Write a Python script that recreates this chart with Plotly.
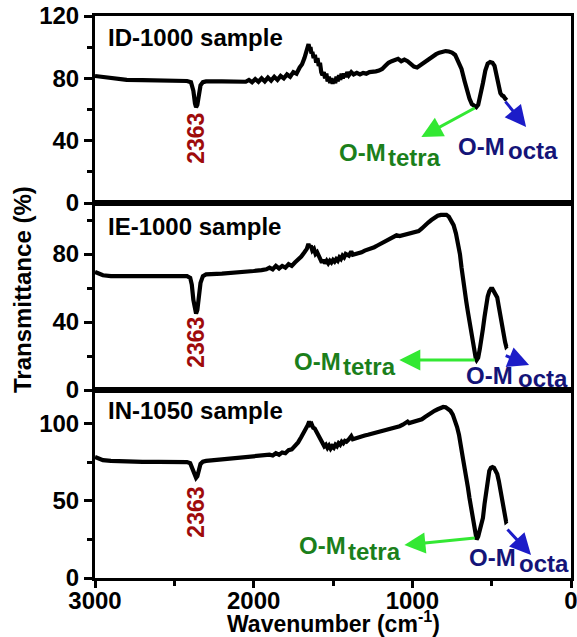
import plotly.graph_objects as go

# ---------------- data ----------------
wn_id = [3000, 2900, 2800, 2700, 2600, 2500, 2420, 2395, 2380, 2370, 2363, 2355, 2345, 2335, 2320, 2300,
         2200, 2100, 2050, 2030, 2010, 1990, 1970, 1950, 1930, 1910, 1890, 1870, 1850, 1830, 1810, 1790,
         1770, 1750, 1730, 1710, 1695, 1680, 1668, 1660, 1654, 1648, 1642, 1636, 1630, 1622, 1614, 1606,
         1598, 1590, 1582, 1574, 1566, 1558, 1550, 1542, 1534, 1526, 1518, 1510, 1502, 1494, 1486, 1478,
         1470, 1462, 1454, 1446, 1438, 1430, 1420, 1410, 1400, 1385, 1370, 1350, 1330, 1310, 1290, 1270,
         1250, 1230, 1210, 1190, 1170, 1150, 1130, 1110, 1090, 1070, 1050, 1030, 1010, 990, 970, 950,
         930, 910, 890, 870, 850, 830, 810, 790, 770, 750, 730, 710, 690, 670, 655, 640, 625, 610, 597,
         585, 570, 555, 540, 525, 510, 495, 482, 470, 458, 445, 435, 425, 415, 405]
t_id = [81.5, 80, 79, 78.8, 78.6, 78.5, 78.3, 77.5, 72, 64, 61.5, 63, 70, 75.5, 77.5, 78,
        78, 78.2, 77.8, 79, 77.5, 79.5, 77.8, 80, 78, 80.5, 78.5, 81, 79, 81.5, 80, 82.5,
        81, 84, 83, 87, 89, 93, 97, 99, 102, 99, 100, 96, 97, 93, 95, 90,
        93, 88, 90, 84, 82, 84, 80, 83, 78, 81, 77, 80, 76.5, 79.5, 77, 81,
        78, 82, 79, 83, 80, 83, 81, 84, 82, 84, 82.5, 83.5, 82.5, 83.5, 83, 84,
        84, 84.5, 85, 86, 88, 90, 91, 91.5, 92.5, 91, 92, 91, 89, 87.5, 87, 88.5,
        90, 91.5, 93, 94.5, 95.5, 96.5, 97, 97.5, 97.2, 96.5, 95, 91, 86, 78, 72, 67, 63.5, 62, 61.5,
        63, 69, 77, 85, 89.5, 90.5, 90, 88, 82, 75, 70.5, 69, 68.5, 67, 66]

wn_ie = [3000, 2950, 2900, 2800, 2700, 2600, 2500, 2420, 2400, 2390, 2380, 2370, 2363, 2355, 2345, 2335,
         2320, 2300, 2200, 2100, 2000, 1950, 1920, 1900, 1880, 1860, 1840, 1820, 1800, 1780, 1760, 1740,
         1720, 1700, 1680, 1665, 1655, 1648, 1640, 1630, 1620, 1610, 1600, 1590, 1580, 1570, 1560, 1550,
         1540, 1530, 1520, 1510, 1500, 1490, 1480, 1470, 1460, 1450, 1440, 1430, 1420, 1400, 1385, 1375,
         1350, 1320, 1300, 1280, 1260, 1240, 1220, 1200, 1180, 1160, 1140, 1120, 1100, 1080, 1060, 1040,
         1020, 1000, 980, 960, 940, 920, 900, 880, 860, 840, 820, 800, 785, 770, 755, 740, 725, 712,
         700, 690, 680, 670, 660, 650, 640, 630, 620, 610, 600, 595, 585, 575, 565, 555, 545, 535,
         525, 515, 505, 495, 485, 475, 465, 455, 445, 435, 425, 415, 408, 402]
t_ie = [69.5, 67.5, 67, 67, 67, 67, 67.2, 67, 66, 62, 53, 47, 45, 47, 55, 63,
        67, 68, 68.5, 69, 70, 70.5, 71, 72, 71, 73, 71.5, 73, 72, 74, 73, 75,
        76.5, 78.5, 81, 83, 86, 84, 85, 82, 83, 80, 81, 78, 77, 75, 76.5, 74.5,
        76, 74.5, 76, 75, 76.5, 75.5, 77, 76, 78, 77, 79, 78, 80, 79, 81.5, 79.5,
        80, 81, 82, 82.5, 83.5, 84, 85, 86, 87, 88.5, 89.5, 90.5, 91, 90.5, 91, 91.5,
        91.5, 92, 92.5, 93.5, 95, 97, 98.5, 100, 101.5, 102.5, 103, 103.2, 103, 102, 100, 97, 92, 87,
        80, 72, 64, 57, 52, 46, 40, 34, 28, 22.5, 18.5, 17.6, 19, 24, 29, 36, 43, 50,
        55, 58, 59.5, 59.5, 58, 56.5, 54.5, 49, 43, 37.5, 32, 28, 25.5, 26]

wn_in = [3000, 2950, 2900, 2800, 2700, 2600, 2500, 2420, 2400, 2385, 2372, 2363, 2355, 2345, 2335, 2320,
         2300, 2200, 2100, 2000, 1950, 1900, 1880, 1860, 1840, 1820, 1800, 1780, 1760, 1740, 1720, 1700,
         1685, 1670, 1660, 1650, 1642, 1635, 1625, 1615, 1605, 1595, 1585, 1575, 1565, 1555, 1545, 1535,
         1525, 1515, 1505, 1495, 1485, 1475, 1465, 1455, 1445, 1435, 1425, 1415, 1400, 1385, 1375, 1350,
         1320, 1300, 1280, 1260, 1240, 1220, 1200, 1180, 1160, 1140, 1120, 1100, 1080, 1060, 1040, 1030,
         1020, 1000, 980, 960, 940, 920, 900, 880, 860, 840, 820, 805, 790, 775, 760, 745, 730, 718,
         706, 700, 690, 680, 670, 660, 650, 640, 630, 620, 610, 600, 595, 585, 575, 565, 555, 545,
         535, 525, 515, 505, 495, 485, 475, 465, 455, 445, 435, 425, 415, 409, 403]
t_in = [78.6, 76.5, 76, 75.5, 75.3, 75.3, 75.3, 75.2, 74.5, 71, 66.5, 65, 66, 70, 74, 75.5,
        76, 77, 78, 78.5, 79, 80, 79.5, 81, 80, 81.5, 81, 83, 83.5, 85.5, 88, 91.5,
        94, 97, 99, 101.5, 99.5, 100, 97.5, 97, 95, 94, 91, 89, 87, 85.5, 86.5, 84.5,
        86, 84, 85.5, 84.5, 86.5, 85.5, 87.5, 86.5, 88.5, 87.5, 89, 88.5, 90, 92, 90, 91,
        92, 92.5, 93, 93.5, 94, 94.5, 95, 96, 96.5, 97, 97.5, 98, 98.5, 99.5, 100.5, 101.5,
        100.5, 101, 102, 102.5, 103, 104.5, 106, 107.5, 108.5, 109.5, 110.5, 111, 110.8, 110, 108.5, 106, 102, 98,
        93, 90, 83, 77, 71, 66, 59, 52, 45, 38, 31, 26, 25, 27, 30.5, 34, 39, 48,
        57, 65, 69.5, 71.5, 72, 71.5, 70, 67.5, 63, 57, 51, 45, 39.5, 36.5, 37]

sample_names = ["ID-1000 sample", "IE-1000 sample", "IN-1050 sample"]
peak_label = "2363"
x_tick_vals = [3000, 2000, 1000, 0]
x_tick_text = ["3000", "2000", "1000", "0"]
y_ranges = [[0, 120], [0, 110], [0, 122]]
y_major = [40, 40, 50]
y_minor = [20, 20, 25]

# ---------------- figure ----------------
FONT = "Liberation Sans, Arial, Helvetica, sans-serif"
fig = go.Figure()
series = [(wn_id, t_id), (wn_ie, t_ie), (wn_in, t_in)]
for i, (wx, ty) in enumerate(series):
    sfx = "" if i == 0 else str(i + 1)
    fig.add_trace(go.Scatter(x=wx, y=ty, mode="lines", xaxis="x" + sfx, yaxis="y" + sfx,
                             line=dict(color="black", width=4.2), showlegend=False,
                             hoverinfo="skip"))

W, H = 577, 637
L, R, T, B = 95, 6, 16, 59
ph = H - T - B
b1, b2 = (578 - 390) / ph, (578 - 203) / ph
domains = [[b2, 1.0], [b1, b2], [0.0, b1]]

layout = dict(width=W, height=H, margin=dict(l=L, r=R, t=T, b=B, autoexpand=False),
              paper_bgcolor="white", plot_bgcolor="white", showlegend=False)
tickfont = dict(family=FONT, size=24, color="black", weight="bold")
for i in range(3):
    sfx = "" if i == 0 else str(i + 1)
    bottom = (i == 2)
    xa = dict(domain=[0, 1], range=[3000, 0], anchor="y" + sfx, showline=True, mirror=True,
              linewidth=3, linecolor="black", showgrid=False, zeroline=False, automargin=False,
              tickvals=x_tick_vals, ticktext=x_tick_text, ticklabeloverflow="allow",
              ticks="outside" if bottom else "", ticklen=7, tickwidth=3, tickcolor="black",
              showticklabels=bottom, tickfont=tickfont, ticklabelstandoff=-8)
    if bottom:
        xa["minor"] = dict(tickvals=[2500, 1500, 500], ticks="outside", ticklen=5, tickwidth=3,
                           tickcolor="black")
    if i > 0:
        xa["matches"] = "x"
    layout["xaxis" + sfx] = xa
    layout["yaxis" + sfx] = dict(domain=domains[i], range=y_ranges[i], anchor="x" + sfx,
                                 showline=True, mirror=True, linewidth=3, linecolor="black",
                                 showgrid=False, zeroline=False, dtick=y_major[i], tick0=0,
                                 automargin=False, ticklabeloverflow="allow",
                                 ticks="outside", ticklen=8, tickwidth=3, tickcolor="black",
                                 tickfont=tickfont,
                                 minor=dict(dtick=y_minor[i], tick0=0, ticks="outside", ticklen=5,
                                            tickwidth=2.5, tickcolor="black"))
fig.update_layout(**layout)

ann = []
GREEN_T, GREEN_A = "#1b7f1b", "#33e833"
BLUE_T, BLUE_A = "#141478", "#1c1cc8"
RED = "#9e0b0b"

panel = [
    dict(sy=106, py=41.7,
         tetra=((597, 61.5), (943, 42.4)), octa=((421, 66), (283, 48.8)),
         gOM=(1472, 32.7), gsub=(1164, 29.5), bOM=(723, 36), bsub=(409, 33.4)),
    dict(sy=95.9, py=28.2,
         tetra=((597, 17.6), (1082, 17.6)), octa=((421, 20.6), (264, 14.7)),
         gOM=(1761, 17), gsub=(1447, 14), bOM=(673, 8.8), bsub=(346, 7)),
    dict(sy=108.4, py=42.9,
         tetra=((597, 26), (1050, 21.4)), octa=((409, 32.5), (252, 15)),
         gOM=(1730, 20.8), gsub=(1415, 17.5), bOM=(654, 13.6), bsub=(340, 9.7)),
]
for i, p in enumerate(panel):
    sfx = "" if i == 0 else str(i + 1)
    xr, yr = "x" + sfx, "y" + sfx
    ann.append(dict(x=2931, y=p["sy"], xref=xr, yref=yr, text=sample_names[i], showarrow=False,
                    xanchor="left", yanchor="middle",
                    font=dict(family=FONT, size=24, color="black", weight="bold")))
    ann.append(dict(x=2365, y=p["py"], xref=xr, yref=yr, text=peak_label, showarrow=False,
                    textangle=-90, xanchor="center", yanchor="middle",
                    font=dict(family=FONT, size=23, color=RED, weight="bold")))
    for key, col in (("tetra", GREEN_A), ("octa", BLUE_A)):
        (x0, y0), (x1, y1) = p[key]
        ann.append(dict(x=x1, y=y1, ax=x0, ay=y0, xref=xr, yref=yr, axref=xr, ayref=yr, text="",
                        showarrow=True, arrowhead=2, arrowsize=1.4, arrowwidth=3, arrowcolor=col))
    for key, txt, col in (("gOM", "O-M", GREEN_T), ("gsub", "tetra", GREEN_T),
                          ("bOM", "O-M", BLUE_T), ("bsub", "octa", BLUE_T)):
        x, y = p[key]
        ann.append(dict(x=x, y=y, xref=xr, yref=yr, text=txt, showarrow=False,
                        xanchor="left", yanchor="middle",
                        font=dict(family=FONT, size=24, color=col, weight="bold")))

ann.append(dict(x=(22 - 95) / 476, y=(578 - 290) / ph, xref="paper", yref="paper",
                text="Transmittance (%)", showarrow=False, textangle=-90, xanchor="center",
                yanchor="middle", font=dict(family=FONT, size=24, color="black", weight="bold")))
ann.append(dict(x=(333 - 95) / 476, y=(578 - 622) / ph, xref="paper", yref="paper",
                text="Wavenumber (cm<sup>-1</sup>)", showarrow=False, xanchor="center",
                yanchor="middle", borderpad=0,
                font=dict(family=FONT, size=23, color="black", weight="bold")))
fig.update_layout(annotations=ann)

# remove the default 8px page margin so the figure fills the window exactly
fig.write_html("out.html", config={"displayModeBar": False},
               post_script="document.body.style.margin='0';document.body.style.overflow='hidden';")
